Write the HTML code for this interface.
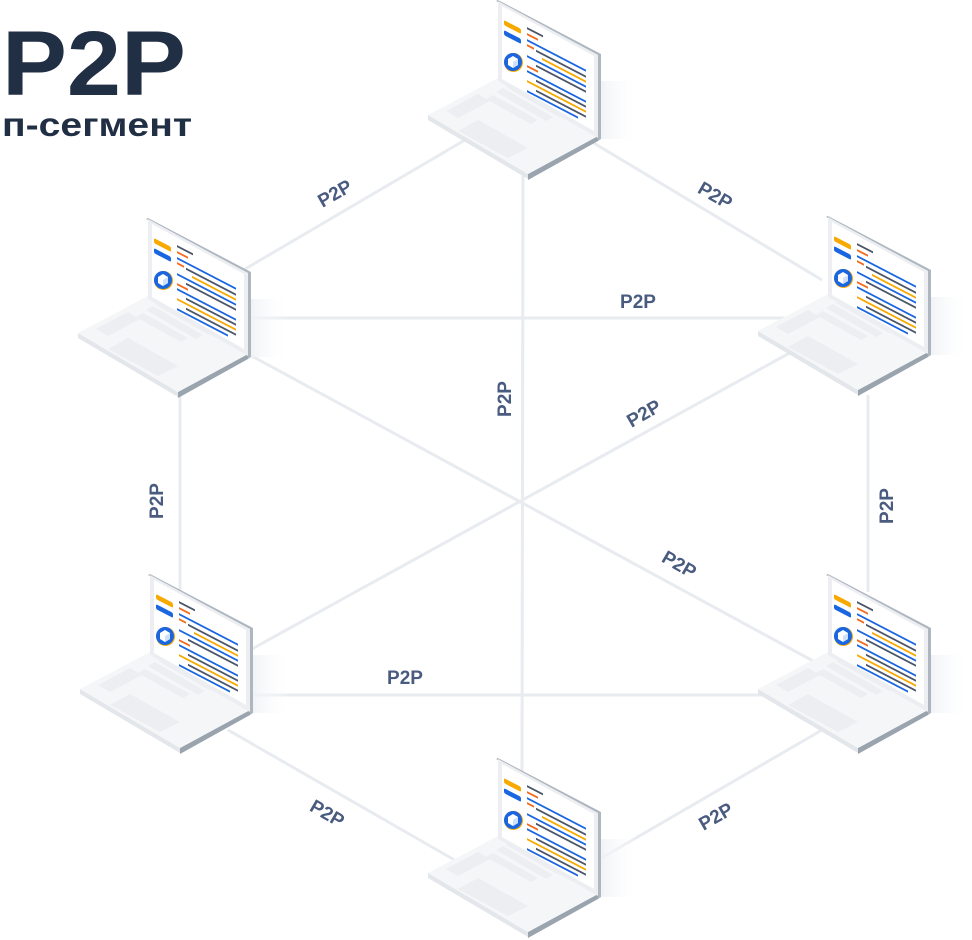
<!DOCTYPE html>
<html><head><meta charset="utf-8"><style>
html,body{margin:0;padding:0;background:#fff;width:972px;height:940px;overflow:hidden}
svg{display:block}
.l{font-family:"Liberation Sans",sans-serif;font-weight:bold;font-size:19px;fill:#4a5b80}
</style></head><body>
<svg width="972" height="940" viewBox="0 0 972 940" xmlns="http://www.w3.org/2000/svg">
<defs>
<linearGradient id="sh" x1="0" x2="1" y1="0" y2="0"><stop offset="0" stop-color="#eef1f5"/><stop offset="1" stop-color="#fff" stop-opacity="0"/></linearGradient>
<g id="lap">
  <rect x="100" y="78" width="42" height="58" fill="url(#sh)"/>
  <polygon points="-70,112 30,171 30,176 -70,117" fill="#e3e6ea"/>
  <polygon points="30,171 100,133 100,138 30,177" fill="#9aa4ae"/>
  <polygon points="-70,112 0,75 100,133 30,171" fill="#f5f6f8"/>
  <polygon points="-40,128 10,155 30,145 -20,117" fill="#eceef1"/>
  <g fill="#eceef1">
    <polygon points="-52,108 -20,91 -8,98 -40,115"/>
    <polygon points="-5,92 40,117 33,121 -12,96"/>
    <polygon points="5,85 55,114 48,118 -2,89"/>
    <polygon points="15,80 68,110 61,114 8,84"/>
  </g>
  <polygon points="-2,-2 0,-3 103,51 103,136 100,138 100,52" fill="#aeb6bf"/>
  <polygon points="0,-2 100,52 100,135 0,78" fill="#eceef1"/>
  <polygon points="4,3 96,53 96,128 4,76" fill="#fff"/>
  <g transform="matrix(1,0.52,0,1,0,0)">
    <rect x="6" y="14" width="17" height="5" rx="1.5" fill="#f7a900"/>
    <rect x="6" y="24" width="17" height="5" rx="1.5" fill="#1a66e0"/>
    <g stroke-width="2">
      <line x1="29" y1="10" x2="45" y2="10" stroke="#4a5568"/>
      <line x1="29" y1="16" x2="40" y2="16" stroke="#f26a1b"/>
      <line x1="29" y1="22" x2="88" y2="22" stroke="#1a66e0"/>
      <line x1="38" y1="28" x2="88" y2="28" stroke="#4a5568"/>
      <line x1="44" y1="33" x2="88" y2="33" stroke="#f7a900"/>
      <line x1="29" y1="38" x2="88" y2="38" stroke="#1a66e0"/>
      <line x1="38" y1="43" x2="88" y2="43" stroke="#4a5568"/>
      <line x1="29" y1="48" x2="40" y2="48" stroke="#f26a1b"/>
      <line x1="29" y1="53" x2="88" y2="53" stroke="#1a66e0"/>
      <line x1="38" y1="58" x2="88" y2="58" stroke="#4a5568"/>
      <line x1="29" y1="63" x2="88" y2="63" stroke="#f7a900"/>
      <line x1="38" y1="68" x2="88" y2="68" stroke="#4a5568"/>
      <line x1="29" y1="73" x2="80" y2="73" stroke="#1a66e0"/>
      <line x1="29" y1="27" x2="36" y2="27" stroke="#f26a1b"/>
    </g>
  </g>
  <circle cx="15.5" cy="59.5" r="9.5" fill="#f7a900"/>
  <circle cx="15" cy="59" r="9" fill="#1a66e0"/>
  <polygon points="15,53 20,56 20,62 15,65 10,62 10,56" fill="#fff"/>
  <polygon points="15,59 20,56 20,62 15,65" fill="#cfe0fb"/>
</g>
</defs>
<g stroke="#e8ebef" stroke-width="3" fill="none">
  <line x1="465" y1="140" x2="240" y2="272"/>
  <line x1="592" y1="142" x2="822" y2="280"/>
  <line x1="523" y1="170" x2="522" y2="775"/>
  <line x1="245" y1="318" x2="795" y2="318"/>
  <line x1="250" y1="355" x2="815" y2="662"/>
  <line x1="795" y1="350" x2="250" y2="650"/>
  <line x1="180" y1="395" x2="180" y2="592"/>
  <line x1="868" y1="395" x2="868" y2="592"/>
  <line x1="248" y1="695" x2="795" y2="695"/>
  <line x1="228" y1="730" x2="458" y2="862"/>
  <line x1="598" y1="860" x2="822" y2="730"/>
</g>
<use href="#lap" x="498" y="3"/>
<use href="#lap" x="148" y="221"/>
<use href="#lap" x="828" y="219"/>
<use href="#lap" x="150" y="577"/>
<use href="#lap" x="828" y="577"/>
<use href="#lap" x="498" y="761"/>
<g class="l" text-anchor="middle">
  <text transform="translate(338,199) rotate(-30)">P2P</text>
  <text transform="translate(712,201) rotate(30)">P2P</text>
  <text x="638" y="308">P2P</text>
  <text transform="translate(511,399) rotate(-90)">P2P</text>
  <text transform="translate(647,419) rotate(-30)">P2P</text>
  <text transform="translate(163,501) rotate(-90)">P2P</text>
  <text transform="translate(893,506) rotate(-90)">P2P</text>
  <text transform="translate(676,570) rotate(30)">P2P</text>
  <text x="405" y="684">P2P</text>
  <text transform="translate(324,819) rotate(30)">P2P</text>
  <text transform="translate(719,822) rotate(-30)">P2P</text>
</g>
<text x="2" y="95" font-family="Liberation Sans,sans-serif" font-weight="bold" font-size="92" fill="#212f45" textLength="184" lengthAdjust="spacingAndGlyphs">P2P</text>
<text x="2" y="136" font-family="Liberation Sans,sans-serif" font-weight="bold" font-size="33" fill="#212f45" textLength="190" lengthAdjust="spacingAndGlyphs">п-сегмент</text>
</svg>
</body></html>
